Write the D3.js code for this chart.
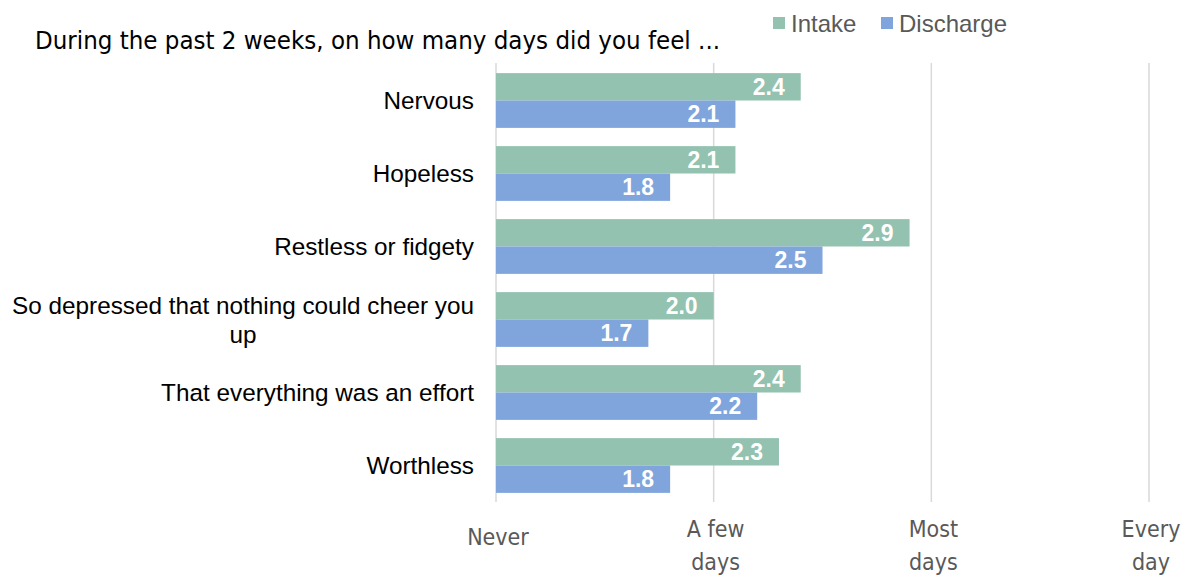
<!DOCTYPE html>
<html>
<head>
<meta charset="utf-8">
<script src="https://cdn.jsdelivr.net/npm/d3@7"></script>
<style>
  html, body { margin: 0; padding: 0; background: #fff; }
  svg { display: block; }
</style>
</head>
<body>
<svg id="chart" width="1194" height="575"></svg>
<script>
// Survey items and mean scores (1 = Never ... 4 = Every day)
const categories = [
  "Nervous",
  "Hopeless",
  "Restless or fidgety",
  "So depressed that nothing could cheer you up",
  "That everything was an effort",
  "Worthless"
];
const intake    = [2.4, 2.1, 2.9, 2.0, 2.4, 2.3];
const discharge = [2.1, 1.8, 2.5, 1.7, 2.2, 1.8];
const seriesNames = ["Intake", "Discharge"];
const tickValues = [1, 2, 3, 4];
const tickLabels = [["Never"], ["A few", "days"], ["Most", "days"], ["Every", "day"]];
const title = "During the past 2 weeks, on how many days did you feel ...";

const colors = { Intake: "#93c2b0", Discharge: "#7fa5dc" };
const gridColor = "#d9d9d9";
const labelFont = "'Liberation Sans', Arial, sans-serif";
const narrowFont = "'DejaVu Sans Condensed', 'Liberation Sans Narrow', 'Open Sans', sans-serif";

const svg = d3.select("#chart");

const x = d3.scaleLinear().domain([1, 4]).range([496, 1149]);
const y = d3.scaleBand().domain(categories).range([64, 502])
  .paddingInner(0.25).paddingOuter(0.125);
const ySub = d3.scaleBand().domain(seriesNames).range([0, y.bandwidth()]);

// Vertical gridlines
svg.append("g").selectAll("line").data(tickValues).join("line")
  .attr("x1", d => x(d)).attr("x2", d => x(d))
  .attr("y1", 63).attr("y2", 502)
  .attr("stroke", gridColor).attr("stroke-width", 1.5);

// Tick labels
const ticks = svg.append("g").selectAll("text").data(tickValues).join("text")
  .attr("text-anchor", "middle")
  .attr("font-family", narrowFont)
  .attr("font-stretch", "condensed")
  .attr("font-size", 23)
  .attr("fill", "#595959");
ticks.each(function(d, i) {
  const lines = tickLabels[i];
  const t = d3.select(this);
  const y0 = lines.length === 1 ? 545 : 537;
  lines.forEach((ln, k) => {
    t.append("tspan").attr("x", x(d) + 2).attr("y", y0 + k * 33).text(ln);
  });
});

// Bars
const rows = categories.map((c, i) => ({ cat: c, values: [
  { key: "Intake", v: intake[i] },
  { key: "Discharge", v: discharge[i] }
]}));

const groups = svg.append("g").selectAll("g").data(rows).join("g")
  .attr("transform", d => `translate(0,${y(d.cat)})`);

groups.selectAll("rect").data(d => d.values).join("rect")
  .attr("x", x(1))
  .attr("y", d => ySub(d.key))
  .attr("width", d => x(d.v) - x(1))
  .attr("height", ySub.bandwidth())
  .attr("fill", d => colors[d.key]);

groups.selectAll("text.val").data(d => d.values).join("text")
  .attr("class", "val")
  .attr("x", d => x(d.v) - 16)
  .attr("y", d => ySub(d.key) + ySub.bandwidth() / 2 + 8)
  .attr("text-anchor", "end")
  .attr("font-family", labelFont)
  .attr("font-weight", "bold")
  .attr("font-size", 23)
  .attr("fill", "#fff")
  .text(d => d3.format(".1f")(d.v));

// Category labels (wrap long ones onto two centred lines)
const catLabels = svg.append("g").selectAll("text").data(categories).join("text")
  .attr("font-family", labelFont)
  .attr("font-size", 24.3)
  .attr("fill", "#000");
catLabels.each(function(d) {
  const t = d3.select(this);
  const cy = y(d) + y.bandwidth() / 2;
  const maxW = 470;
  t.text(d);
  if (this.getComputedTextLength() <= maxW) {
    t.attr("x", 474).attr("y", cy + 8).attr("text-anchor", "end");
  } else {
    const words = d.split(" ");
    let line1 = [];
    let rest = words.slice();
    while (rest.length) {
      t.text([...line1, rest[0]].join(" "));
      if (this.getComputedTextLength() > maxW) break;
      line1.push(rest.shift());
    }
    t.text(line1.join(" "));
    const w = this.getComputedTextLength();
    const cx = 474 - w / 2;
    t.text(null).attr("text-anchor", "middle");
    t.append("tspan").attr("x", cx).attr("y", cy - 6).text(line1.join(" "));
    t.append("tspan").attr("x", cx).attr("y", cy + 23).text(rest.join(" "));
  }
});

// Title
svg.append("text")
  .attr("x", 35).attr("y", 49)
  .attr("font-family", narrowFont)
  .attr("font-stretch", "condensed")
  .attr("font-size", 25)
  .attr("textLength", 685)
  .attr("lengthAdjust", "spacingAndGlyphs")
  .attr("fill", "#000")
  .text(title);

// Legend
const legend = svg.append("g");
const legendPos = [773, 881];
seriesNames.forEach((s, i) => {
  legend.append("rect")
    .attr("x", legendPos[i]).attr("y", 17)
    .attr("width", 12).attr("height", 12)
    .attr("fill", colors[s]);
  legend.append("text")
    .attr("x", legendPos[i] + 18).attr("y", 32)
    .attr("font-family", labelFont)
    .attr("font-size", 24)
    .attr("fill", "#595959")
    .text(s);
});
</script>
</body>
</html>
